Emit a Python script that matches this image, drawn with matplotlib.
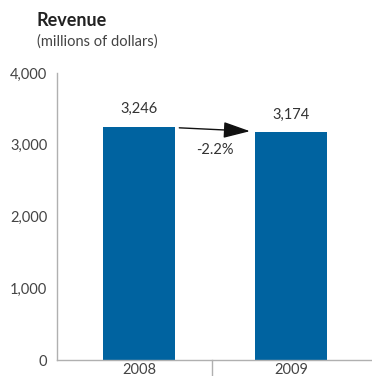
import matplotlib
matplotlib.use("Agg")
import matplotlib.pyplot as plt
import matplotlib.transforms as mtransforms

years = ["2008", "2009"]
revenue = [3246, 3174]
value_labels = ["3,246", "3,174"]
change_label = "-2.2%"
yticks = [0, 1000, 2000, 3000, 4000]
ytick_labels = ["0", "1,000", "2,000", "3,000", "4,000"]

plt.rcParams["font.family"] = ["Lato", "DejaVu Sans"]

fig = plt.figure(figsize=(3.72, 3.76), dpi=100)
ax = fig.add_axes([57 / 372, 16 / 376, 314 / 372, (360 - 73) / 376])

x = list(range(len(years)))
bar_color = "#0063a0"
ax.bar(x, revenue, width=0.474, color=bar_color, zorder=2)

ax.set_xlim(-0.54, 1.527)
ax.set_ylim(0, 4000)

for s in ["top", "right"]:
    ax.spines[s].set_visible(False)
for s in ["left", "bottom"]:
    ax.spines[s].set_color("#b0b0b0")
    ax.spines[s].set_linewidth(1.0)

ax.set_yticks(yticks)
ax.set_yticklabels(ytick_labels)
ax.set_xticks(x)
ax.set_xticklabels(years)
ax.tick_params(axis="both", length=0, labelsize=10.5, labelcolor="#444444")
ax.tick_params(axis="y", pad=7)
ax.tick_params(axis="x", pad=2)

# divider between the two year labels
trans = mtransforms.blended_transform_factory(ax.transData, ax.transAxes)
ax.plot([0.48, 0.48], [0, -0.06], transform=trans, color="#b0b0b0",
        lw=1.0, clip_on=False)

# value labels above bars
for xi, v, lab in zip(x, revenue, value_labels):
    ax.text(xi, v + 150, lab, ha="center", va="bottom", fontsize=10.5,
            color="#333333")

# change arrow between bars
ax.annotate("", xy=(x[1] - 0.27, revenue[1] + 15),
            xytext=(x[0] + 0.265, revenue[0] - 10),
            arrowprops=dict(arrowstyle="-|>,head_length=1.65,head_width=0.5",
                            color="#111111", lw=1.0, shrinkA=0, shrinkB=0))
ax.text(0.5, (revenue[0] + revenue[1]) / 2 - 290, change_label, ha="center",
        va="center", fontsize=10.5, color="#333333")

fig.text(37 / 372, 1 - 20 / 376, "Revenue", ha="left", va="center",
         fontsize=13, fontweight="bold", color="#222222")
fig.text(37 / 372, 1 - 42 / 376, "(millions of dollars)", ha="left",
         va="center", fontsize=10.5, color="#444444")

fig.savefig("out.png", dpi=100)
